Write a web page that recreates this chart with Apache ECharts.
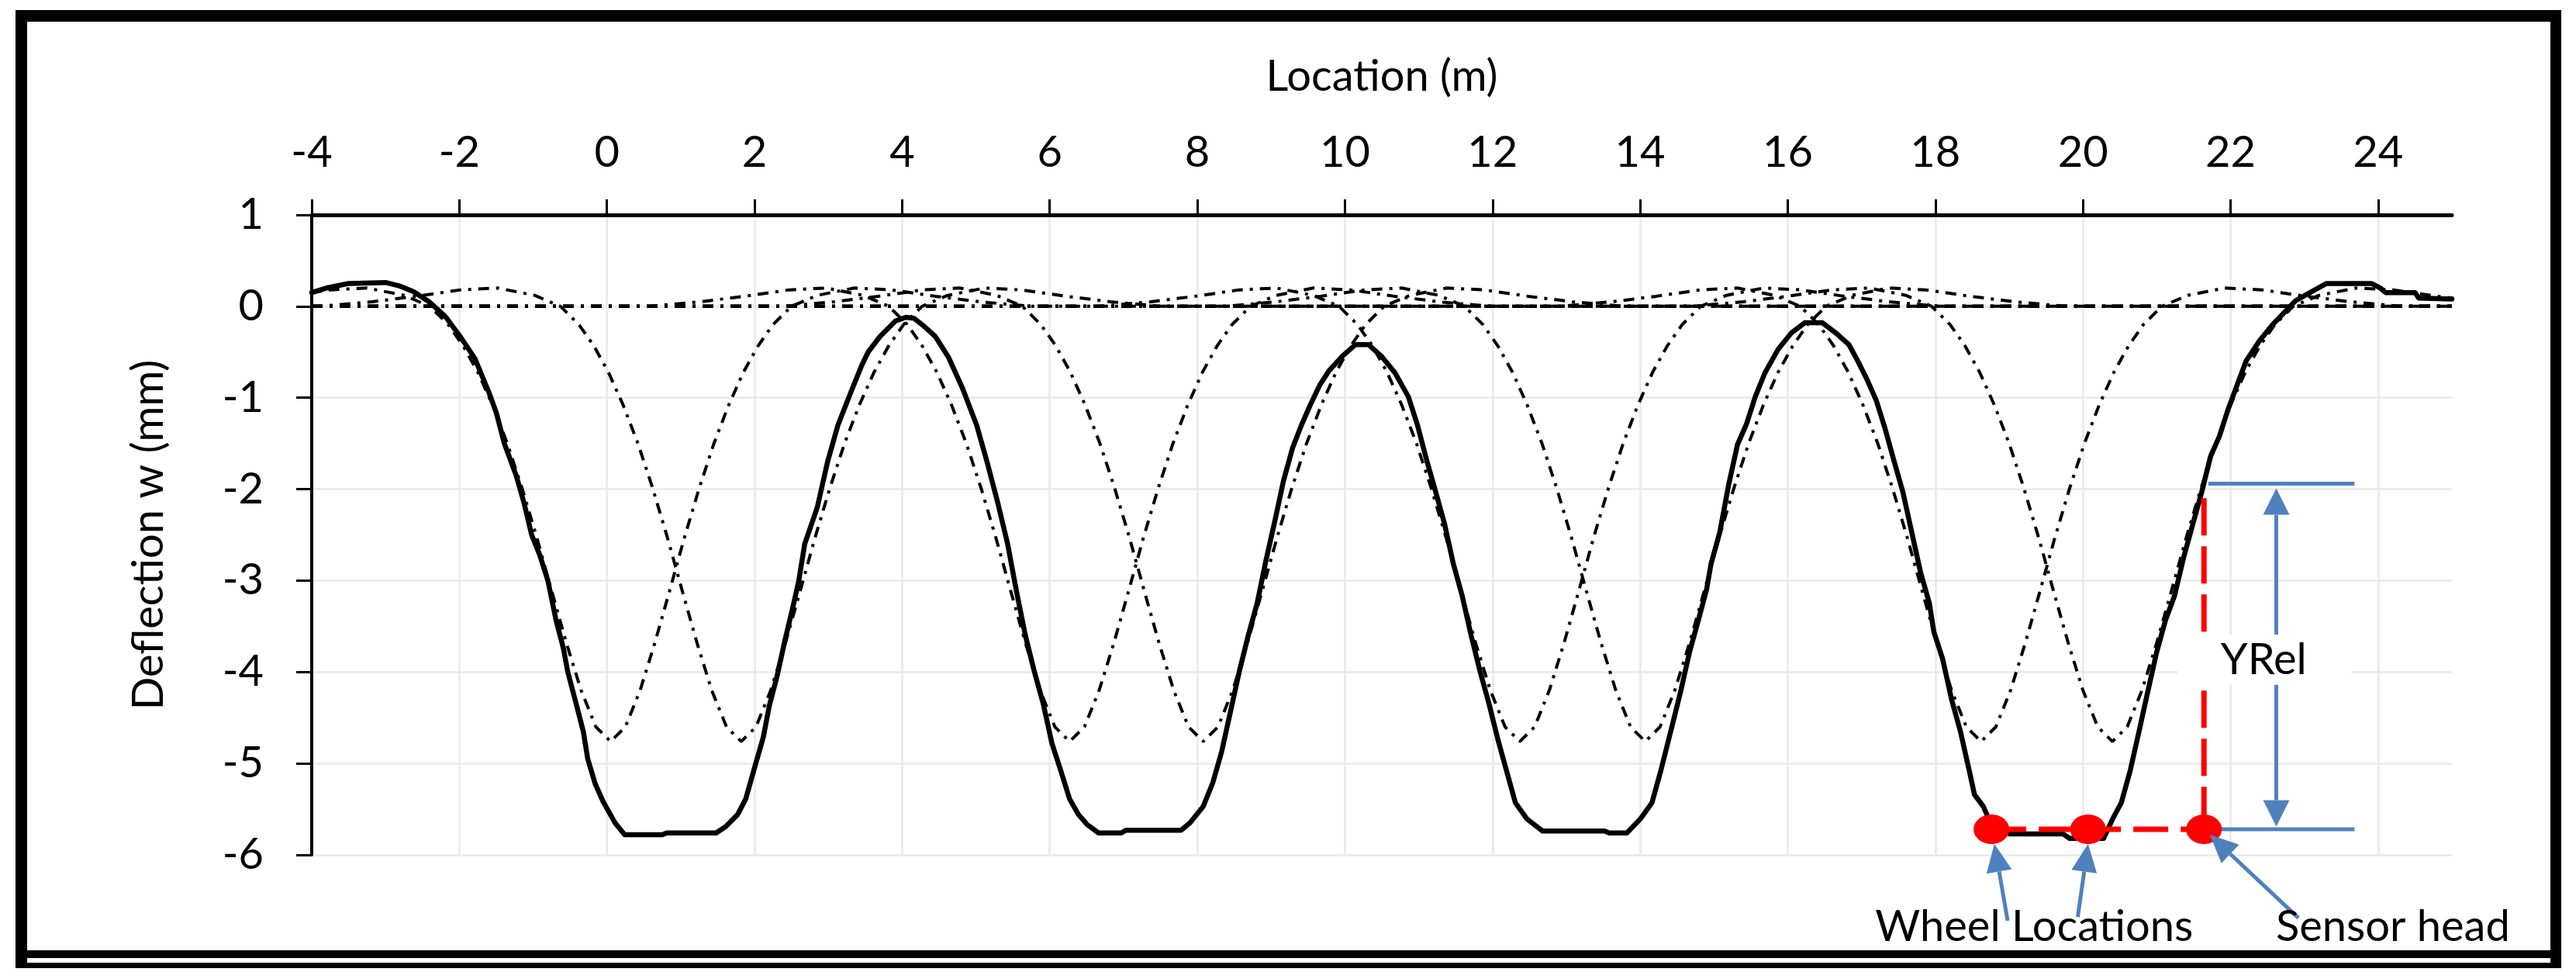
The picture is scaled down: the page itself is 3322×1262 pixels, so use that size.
<!DOCTYPE html>
<html>
<head>
<meta charset="utf-8">
<script src="https://cdn.jsdelivr.net/npm/echarts@6.0.0/dist/echarts.min.js"></script>
<style>
html,body{margin:0;padding:0;background:#ffffff;}
#chart{width:3322px;height:1262px;}
</style>
</head>
<body>
<div id="chart"></div>
<script>
// ---------------- data ----------------
const xRange = [-4, 25];
const xTickLabels = [-4, -2, 0, 2, 4, 6, 8, 10, 12, 14, 16, 18, 20, 22, 24];
const yRange = [-6, 1];

// measured total deflection (solid line): [location m, deflection mm]
const totalDeflection = [
  [-4.0,0.15],[-3.8,0.20],[-3.5,0.25],[-3.0,0.26],[-2.8,0.22],[-2.62,0.16],[-2.41,0.05],[-2.19,-0.11],
  [-1.98,-0.34],[-1.79,-0.57],[-1.6,-0.94],[-1.5,-1.16],[-1.39,-1.5],[-1.23,-1.85],[-1.12,-2.16],
  [-1.02,-2.5],[-0.91,-2.72],[-0.80,-3.0],[-0.69,-3.43],[-0.59,-3.74],[-0.53,-4.0],[-0.40,-4.40],
  [-0.32,-4.65],[-0.26,-4.95],[-0.16,-5.22],[-0.05,-5.42],[0.11,-5.65],[0.24,-5.78],[0.75,-5.78],
  [0.81,-5.76],[1.48,-5.76],[1.61,-5.69],[1.77,-5.56],[1.88,-5.39],[2.01,-5.02],[2.12,-4.71],
  [2.20,-4.37],[2.31,-4.03],[2.41,-3.66],[2.52,-3.29],[2.6,-3.0],[2.68,-2.6],[2.85,-2.2],[2.99,-1.7],
  [3.13,-1.3],[3.3,-0.95],[3.45,-0.65],[3.54,-0.5],[3.70,-0.33],[3.91,-0.16],[4.05,-0.12],[4.16,-0.13],
  [4.3,-0.22],[4.45,-0.33],[4.63,-0.56],[4.82,-0.9],[5.01,-1.3],[5.15,-1.7],[5.29,-2.13],[5.43,-2.6],
  [5.55,-3.12],[5.67,-3.60],[5.79,-3.99],[5.91,-4.34],[6.03,-4.78],[6.15,-5.08],[6.27,-5.39],
  [6.39,-5.56],[6.51,-5.67],[6.66,-5.76],[6.97,-5.76],[7.03,-5.73],[7.78,-5.73],[7.90,-5.65],
  [8.08,-5.47],[8.21,-5.21],[8.33,-4.87],[8.45,-4.43],[8.57,-3.99],[8.69,-3.60],[8.81,-3.25],
  [8.93,-2.78],[9.05,-2.35],[9.17,-1.9],[9.29,-1.55],[9.41,-1.3],[9.53,-1.08],[9.66,-0.86],
  [9.78,-0.71],[9.96,-0.55],[10.14,-0.42],[10.32,-0.42],[10.50,-0.55],[10.68,-0.73],[10.86,-0.99],
  [10.98,-1.29],[11.11,-1.69],[11.23,-2.03],[11.35,-2.38],[11.47,-2.82],[11.59,-3.17],[11.71,-3.60],
  [11.83,-3.99],[11.95,-4.34],[12.07,-4.73],[12.19,-5.08],[12.31,-5.43],[12.47,-5.61],[12.68,-5.74],
  [13.52,-5.74],[13.58,-5.76],[13.82,-5.76],[14.0,-5.61],[14.16,-5.43],[14.28,-5.08],[14.43,-4.6],
  [14.55,-4.21],[14.67,-3.78],[14.79,-3.43],[14.90,-3.1],[14.96,-2.82],[15.08,-2.47],[15.20,-1.95],
  [15.32,-1.51],[15.44,-1.29],[15.56,-0.99],[15.69,-0.73],[15.87,-0.47],[16.05,-0.29],[16.23,-0.18],
  [16.47,-0.18],[16.65,-0.29],[16.83,-0.42],[16.95,-0.60],[17.08,-0.81],[17.20,-1.03],[17.32,-1.34],
  [17.44,-1.69],[17.56,-2.03],[17.68,-2.47],[17.80,-2.91],[17.92,-3.25],[17.98,-3.56],[18.10,-3.86],
  [18.22,-4.30],[18.34,-4.65],[18.46,-5.08],[18.53,-5.34],[18.65,-5.47],[18.77,-5.69],[19.01,-5.77],
  [19.73,-5.77],[19.82,-5.82],[20.28,-5.82],[20.40,-5.61],[20.52,-5.43],[20.64,-5.08],[20.76,-4.65],
  [20.88,-4.21],[21.0,-3.78],[21.12,-3.43],[21.24,-3.17],[21.37,-2.73],[21.49,-2.38],[21.61,-2.03],
  [21.73,-1.64],[21.85,-1.42],[21.97,-1.12],[22.09,-0.86],[22.21,-0.60],[22.39,-0.38],[22.57,-0.20],
  [22.88,0.06],[23.12,0.17],[23.30,0.25],[23.91,0.25],[24.03,0.20],[24.1,0.15],[24.5,0.15],
  [24.55,0.09],[25.0,0.08]
];

// single-wheel influence line (offset from its minimum, deflection)
const profileOffset = [-5.7,-5.0,-4.4,-3.8,-3.3,-2.8,-2.45,-2.2,-2.0,-1.8,-1.6,-1.4,-1.2,-1.0,-0.8,-0.6,-0.4,-0.2,
  0,0.2,0.4,0.6,0.8,1.0,1.2,1.4,1.6,1.8,2.0,2.2,2.45,2.8,3.3,3.8,4.4,5.0,5.7];
const profileValue = [0,0.05,0.11,0.18,0.20,0.12,0,-0.20,-0.43,-0.72,-1.08,-1.50,-1.99,-2.53,-3.11,-3.68,-4.20,-4.60,
  -4.76,-4.60,-4.20,-3.68,-3.11,-2.53,-1.99,-1.50,-1.08,-0.72,-0.43,-0.20,0,0.12,0.20,0.18,0.11,0.05,0];
// locations of the minima of the individual wheel curves
const wheelCurveMinima = [0.05, 1.82, 6.27, 8.08, 12.37, 14.07, 18.62, 20.40];

// annotation values
const wheelLocations = [18.76, 20.07];
const sensorHead = 21.64;
const annotationLevel = -5.72;
const redVerticalTop = -2.1;
const yRelTopLevel = -1.94;
const blueLineSpan = [21.70, 23.68];
const yRelArrowX = 22.62;
const yRelArrowEnds = [-1.99, -5.69];
const yRelLabel = { text: 'YRel', x: 22.45, y: -3.87, box: [21.28, -3.59, 23.64, -4.14] };
const pointerArrows = [
  [18.98, -6.72, 18.80, -5.88],
  [19.93, -6.68, 20.07, -5.88],
  [22.92, -6.69, 21.72, -5.78]
];
const bottomTexts = [
  { text: 'Wheel Locations', x: 19.34, y: -6.79 },
  { text: 'Sensor head', x: 24.20, y: -6.79 }
];

// ---------------- chart ----------------
const FONT = 'Lato';
const FS = 56;

function influenceLine(center) {
  const pts = profileOffset.map((d, i) => [+(center + d).toFixed(3), profileValue[i]]);
  if (pts[0][0] > xRange[0]) pts.unshift([xRange[0], 0]);
  if (pts[pts.length - 1][0] < xRange[1]) pts.push([xRange[1], 0]);
  return pts;
}

const series = [];
wheelCurveMinima.forEach((c, i) => {
  series.push({
    name: 'wheel ' + (i + 1),
    type: 'line',
    data: influenceLine(c),
    showSymbol: false,
    symbol: 'none',
    silent: true,
    z: 2,
    lineStyle: { color: '#000000', width: 4, type: [14, 9, 4, 9] }
  });
});
series.push({
  name: 'total',
  type: 'line',
  data: totalDeflection,
  showSymbol: false,
  symbol: 'none',
  silent: true,
  z: 3,
  lineStyle: { color: '#000000', width: 6.5, cap: 'round', join: 'round' }
});

function arrowShapes(p0, p1, color, headLen, headW, width) {
  const dx = p1[0] - p0[0], dy = p1[1] - p0[1];
  const L = Math.sqrt(dx * dx + dy * dy);
  const ux = dx / L, uy = dy / L;
  const bx = p1[0] - ux * headLen, by = p1[1] - uy * headLen;
  return [
    { type: 'line', shape: { x1: p0[0], y1: p0[1], x2: bx, y2: by }, style: { stroke: color, lineWidth: width } },
    { type: 'polygon', shape: { points: [[p1[0], p1[1]], [bx - uy * headW / 2, by + ux * headW / 2], [bx + uy * headW / 2, by - ux * headW / 2]] }, style: { fill: color } }
  ];
}

const BLUE = '#4f81bd';
const RED = '#ff0000';

series.push({
  name: 'annotations',
  type: 'custom',
  coordinateSystem: 'cartesian2d',
  clip: false,
  silent: true,
  z: 10,
  data: [[sensorHead, annotationLevel]],
  renderItem: function (params, api) {
    const P = (x, y) => api.coord([x, y]);
    const ch = [];
    const a = P(wheelLocations[0], annotationLevel), s = P(sensorHead, annotationLevel), st = P(sensorHead, redVerticalTop);
    ch.push({ type: 'line', shape: { x1: a[0], y1: a[1], x2: s[0], y2: s[1] }, style: { stroke: RED, lineWidth: 7, lineDash: [45, 16] } });
    ch.push({ type: 'line', shape: { x1: st[0], y1: st[1], x2: s[0], y2: s[1] }, style: { stroke: RED, lineWidth: 7, lineDash: [48, 14] } });
    [yRelTopLevel, annotationLevel].forEach(lv => {
      const l = P(blueLineSpan[0], lv), r = P(blueLineSpan[1], lv);
      ch.push({ type: 'line', shape: { x1: l[0], y1: l[1], x2: r[0], y2: r[1] }, style: { stroke: BLUE, lineWidth: 5 } });
    });
    const top = P(yRelArrowX, yRelArrowEnds[0]), bot = P(yRelArrowX, yRelArrowEnds[1]);
    const mid = [(top[0] + bot[0]) / 2, (top[1] + bot[1]) / 2];
    arrowShapes(mid, top, BLUE, 34, 34, 5).forEach(e => ch.push(e));
    arrowShapes(mid, bot, BLUE, 34, 34, 5).forEach(e => ch.push(e));
    wheelLocations.concat([sensorHead]).forEach(x => {
      const c = P(x, annotationLevel);
      ch.push({ type: 'ellipse', shape: { cx: c[0], cy: c[1], rx: 23, ry: 19 }, style: { fill: RED } });
    });
    pointerArrows.forEach(ar => {
      arrowShapes(P(ar[0], ar[1]), P(ar[2], ar[3]), BLUE, 36, 33, 5).forEach(e => ch.push(e));
    });
    const b0 = P(yRelLabel.box[0], yRelLabel.box[1]), b1 = P(yRelLabel.box[2], yRelLabel.box[3]);
    ch.push({ type: 'rect', shape: { x: b0[0], y: b0[1], width: b1[0] - b0[0], height: b1[1] - b0[1] }, style: { fill: '#ffffff' } });
    const tp = P(yRelLabel.x, yRelLabel.y);
    ch.push({ type: 'text', x: tp[0], y: tp[1], style: { text: yRelLabel.text, fill: '#000', font: FS + 'px ' + FONT, align: 'center', verticalAlign: 'middle' } });
    bottomTexts.forEach(t => {
      const q = P(t.x, t.y);
      ch.push({ type: 'text', x: q[0], y: q[1], style: { text: t.text, fill: '#000', font: FS + 'px ' + FONT, align: 'center', verticalAlign: 'middle' } });
    });
    return { type: 'group', children: ch };
  }
});

const chart = echarts.init(document.getElementById('chart'), null, { renderer: 'canvas', width: 3322, height: 1262 });
chart.setOption({
  animation: false,
  backgroundColor: '#ffffff',
  textStyle: { fontFamily: FONT, color: '#000' },
  grid: { left: 402, right: 160, top: 277, bottom: 160, containLabel: false },
  xAxis: {
    type: 'value', position: 'top', min: xRange[0], max: xRange[1], interval: 2,
    name: 'Location (m)', nameLocation: 'middle', nameGap: 150,
    nameTextStyle: { fontSize: FS, fontFamily: FONT, color: '#000' },
    axisLine: { show: true, onZero: false, lineStyle: { color: '#000', width: 5 } },
    axisTick: { show: true, length: 20, lineStyle: { color: '#000', width: 3 }, customValues: xTickLabels },
    axisLabel: { fontSize: FS, fontFamily: FONT, color: '#000', margin: 52, customValues: xTickLabels },
    splitLine: { show: true, lineStyle: { color: '#e9e9e9', width: 2.5 } }
  },
  yAxis: {
    type: 'value', min: yRange[0], max: yRange[1], interval: 1,
    name: 'Deflection w (mm)', nameLocation: 'middle', nameGap: 182, nameRotate: 90,
    nameTextStyle: { fontSize: FS, fontFamily: FONT, color: '#000' },
    axisLine: { show: true, onZero: false, lineStyle: { color: '#000', width: 4 } },
    axisTick: { show: true, length: 20, lineStyle: { color: '#000', width: 3 } },
    axisLabel: { fontSize: FS, fontFamily: FONT, color: '#000', margin: 62 },
    splitLine: { show: true, lineStyle: { color: '#e9e9e9', width: 2.5 } }
  },
  graphic: [
    { type: 'rect', shape: { x: 20, y: 13, width: 3283, height: 15 }, style: { fill: '#000' } },
    { type: 'rect', shape: { x: 20, y: 13, width: 15, height: 1235 }, style: { fill: '#000' } },
    { type: 'rect', shape: { x: 3289, y: 13, width: 14, height: 1235 }, style: { fill: '#000' } },
    { type: 'rect', shape: { x: 20, y: 1225, width: 3283, height: 10 }, style: { fill: '#000' } },
    { type: 'rect', shape: { x: 20, y: 1241, width: 3283, height: 7 }, style: { fill: '#000' } }
  ],
  series: series
});
</script>
</body>
</html>
